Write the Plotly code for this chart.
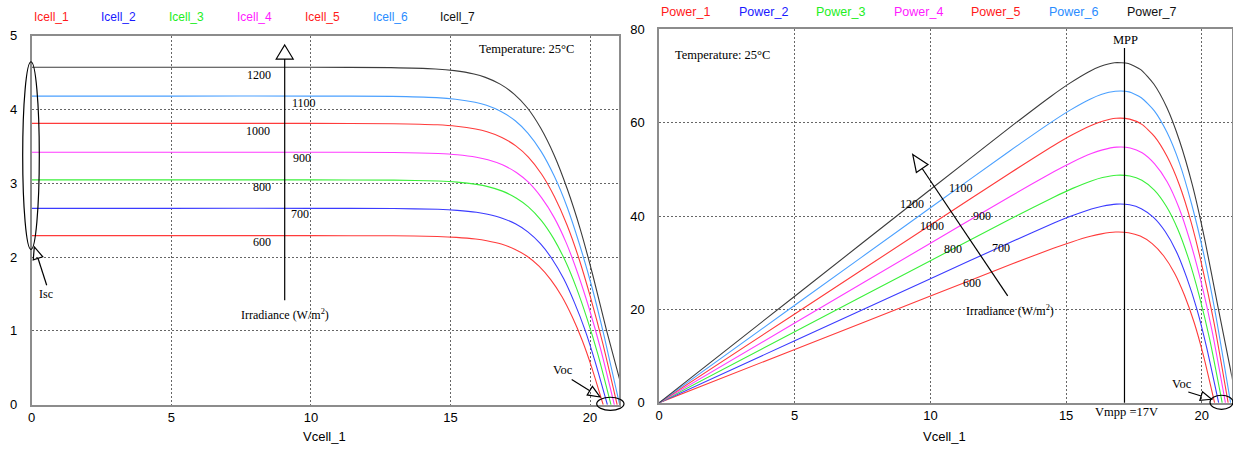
import math
import plotly.graph_objects as go

W, H = 1233, 450

# ---------------- data ----------------
irradiance = [600, 700, 800, 900, 1000, 1100, 1200]

v_600 = [0, 5, 10, 12.95, 14.53, 15.21, 15.90, 16.30, 16.82, 17.30, 17.73, 18.17, 18.59, 18.99, 19.36, 19.72, 20.06, 20.47]
i_600 = [2.29, 2.29, 2.29, 2.288, 2.279, 2.267, 2.244, 2.221, 2.176, 2.107, 2.015, 1.878, 1.695, 1.466, 1.191, 0.870, 0.504, 0]

v_700 = [0, 5, 10, 12.97, 14.55, 15.24, 15.93, 16.33, 16.85, 17.34, 17.77, 18.22, 18.65, 19.06, 19.44, 19.82, 20.18, 20.62]
i_700 = [2.66, 2.66, 2.66, 2.657, 2.647, 2.633, 2.607, 2.580, 2.527, 2.447, 2.341, 2.181, 1.968, 1.702, 1.383, 1.011, 0.585, 0]

v_800 = [0, 5, 10, 12.98, 14.56, 15.24, 15.93, 16.34, 16.86, 17.35, 17.79, 18.25, 18.69, 19.11, 19.51, 19.90, 20.29, 20.75]
i_800 = [3.045, 3.045, 3.045, 3.042, 3.030, 3.015, 2.984, 2.954, 2.893, 2.801, 2.680, 2.497, 2.253, 1.949, 1.583, 1.157, 0.670, 0]

v_900 = [0, 5, 10, 12.97, 14.56, 15.24, 15.93, 16.34, 16.86, 17.36, 17.80, 18.26, 18.72, 19.15, 19.56, 19.97, 20.38, 20.87]
i_900 = [3.42, 3.42, 3.42, 3.417, 3.403, 3.386, 3.352, 3.317, 3.249, 3.146, 3.010, 2.804, 2.531, 2.189, 1.778, 1.300, 0.752, 0]

v_1000 = [0, 5, 10, 12.94, 14.53, 15.21, 15.90, 16.31, 16.84, 17.34, 17.79, 18.26, 18.72, 19.17, 19.60, 20.02, 20.45, 20.97]
i_1000 = [3.81, 3.81, 3.81, 3.806, 3.791, 3.772, 3.734, 3.696, 3.620, 3.505, 3.353, 3.124, 2.819, 2.438, 1.981, 1.448, 0.838, 0]

v_1100 = [0, 5, 10, 12.91, 14.50, 15.18, 15.88, 16.29, 16.81, 17.32, 17.77, 18.25, 18.72, 19.18, 19.62, 20.07, 20.51, 21.06]
i_1100 = [4.18, 4.18, 4.18, 4.176, 4.159, 4.138, 4.096, 4.055, 3.971, 3.846, 3.678, 3.428, 3.093, 2.675, 2.174, 1.588, 0.920, 0]

v_1200 = [0, 5, 10, 12.87, 14.46, 15.14, 15.84, 16.25, 16.78, 17.29, 17.75, 18.23, 18.71, 19.18, 19.65, 20.11, 20.58, 21.3]
i_1200 = [4.57, 4.57, 4.57, 4.565, 4.547, 4.524, 4.479, 4.433, 4.342, 4.204, 4.022, 3.747, 3.382, 2.925, 2.376, 1.737, 1.02, 0]

icell_names = ["Icell_1", "Icell_2", "Icell_3", "Icell_4", "Icell_5", "Icell_6", "Icell_7"]
power_names = ["Power_1", "Power_2", "Power_3", "Power_4", "Power_5", "Power_6", "Power_7"]
irr_labels = ["600", "700", "800", "900", "1000", "1100", "1200"]

x_ticks = [0, 5, 10, 15, 20]
i_ticks = [0, 1, 2, 3, 4, 5]
p_ticks = [0, 20, 40, 60, 80]
v_mpp = 17.15

# ---------------- styles ----------------
line_colors = ["#ff3b3b", "#3b3bff", "#3bf03b", "#ff3bff", "#ff3b3b", "#4aa0ff", "#3c3c3c"]
text_colors = ["#ff1a1a", "#1a1aff", "#22ee22", "#ff1aff", "#ff1a1a", "#2a8cff", "#111111"]
SANS = "Liberation Sans, Arial, sans-serif"
SERIF = "Liberation Serif, Times New Roman, serif"

volts = [v_600, v_700, v_800, v_900, v_1000, v_1100, v_1200]
amps = [i_600, i_700, i_800, i_900, i_1000, i_1100, i_1200]

fig = go.Figure()
for k in range(7):
    fig.add_trace(go.Scatter(x=volts[k], y=amps[k], mode="lines", name=icell_names[k],
                             line=dict(color=line_colors[k], width=1.1, shape="spline", smoothing=0.6),
                             xaxis="x", yaxis="y", showlegend=False, hoverinfo="skip"))
for k in range(7):
    power = [v * i for v, i in zip(volts[k], amps[k])]
    fig.add_trace(go.Scatter(x=volts[k], y=power, mode="lines", name=power_names[k],
                             line=dict(color=line_colors[k], width=1.1, shape="spline", smoothing=0.6),
                             xaxis="x2", yaxis="y2", showlegend=False, hoverinfo="skip"))

# placement correction measured from the rendered page
Y_SCALE, Y_OFF = 0.966, 7.0
X_SCALE, X_OFF = 0.99676, 4.0


def Yp(y):
    return (y - Y_OFF) / Y_SCALE


def Xp(x):
    return min((x - X_OFF) / X_SCALE, W)


def P(x, y):
    return Xp(x) / W, 1 - Yp(y) / H


shapes = []
annotations = []


def open_arrow(tail, tip, head_len, half_w):
    dx, dy = tip[0] - tail[0], tip[1] - tail[1]
    L = math.hypot(dx, dy)
    ux, uy = dx / L, dy / L
    bx, by = tip[0] - ux * head_len, tip[1] - uy * head_len
    nx, ny = -uy, ux
    p1 = (bx + nx * half_w, by + ny * half_w)
    p2 = (bx - nx * half_w, by - ny * half_w)
    a, b = P(*tail), P(bx, by)
    shapes.append(dict(type="line", xref="paper", yref="paper", x0=a[0], y0=a[1], x1=b[0], y1=b[1],
                       line=dict(color="black", width=1.2), layer="above"))
    t, q1, q2 = P(*tip), P(*p1), P(*p2)
    path = "M %f,%f L %f,%f L %f,%f Z" % (t[0], t[1], q1[0], q1[1], q2[0], q2[1])
    shapes.append(dict(type="path", xref="paper", yref="paper", path=path,
                       line=dict(color="black", width=1.2), fillcolor="rgba(0,0,0,0)", layer="above"))


def ellipse(x0, x1, y0, y1):
    a, b = P(x0, y1), P(x1, y0)
    shapes.append(dict(type="circle", xref="paper", yref="paper", x0=a[0], y0=a[1], x1=b[0], y1=b[1],
                       line=dict(color="black", width=1.2), layer="above"))


def text(s, x, y, size=12.5, family=SERIF, color="black", anchor="center"):
    px_, py_ = P(x, y)
    annotations.append(dict(text=s, x=px_, y=py_, xref="paper", yref="paper", showarrow=False,
                            xanchor=anchor, yanchor="middle", font=dict(family=family, size=size, color=color)))


# legends (coloured names)
for k in range(7):
    text(icell_names[k], 31.6 + k * 67.8, 17, size=12, family=SANS, color=text_colors[k], anchor="left")
    text(power_names[k], 659 + k * 77.6, 12, size=12.5, family=SANS, color=text_colors[k], anchor="left")

# axis titles
text("Vcell_1", 325, 436, size=13, family=SANS)
text("Vcell_1", 945, 436, size=13, family=SANS)

# ----- left panel annotations -----
text("Temperature: 25\u00b0C", 527, 49, size=12.5)
left_lbl = [(261.7, 242.3), (300, 214), (262.3, 186.7), (301.7, 158.3), (258.3, 130.7), (304, 102.7), (259.3, 75)]
for k in range(7):
    text(irr_labels[k], left_lbl[k][0], left_lbl[k][1], size=12)
text("Irradiance (W/m<sup>2</sup>)", 285, 314, size=12)
open_arrow((284.7, 300), (284.7, 45), 14, 8.5)
ellipse(22.7, 39.3, 61.7, 249.3)
open_arrow((46.7, 285), (34.3, 246.7), 12, 5)
text("Isc", 46, 294, size=12)
ellipse(596.7, 624, 397, 410)
open_arrow((571.7, 379.3), (600, 396.7), 12, 5)
text("Voc", 563, 370, size=12.5)

# ----- right panel annotations -----
text("Temperature: 25\u00b0C", 723, 55, size=12.5)
right_lbl = [(971.7, 282.7), (1000.7, 248.3), (952.7, 249.3), (981.7, 216), (932, 225.7), (961, 188.3), (911.7, 204)]
for k in range(7):
    text(irr_labels[k], right_lbl[k][0], right_lbl[k][1], size=12)
text("Irradiance (W/m<sup>2</sup>)", 1010, 310, size=12)
open_arrow((1007.7, 295.7), (912.7, 154.3), 17, 7)
text("MPP", 1125.5, 40, size=12.5)
shapes.append(dict(type="line", xref="x2", yref="y2", x0=v_mpp, x1=v_mpp, y0=0, y1=76,
                   line=dict(color="black", width=1.2), layer="above"))
text("Vmpp =17V", 1127, 412, size=12.5)
ellipse(1210, 1233, 395, 409)
open_arrow((1188.3, 391.7), (1211.7, 399), 11, 4.5)
text("Voc", 1181.7, 383.3, size=12.5)

axis_common = dict(showline=True, linecolor="#8c8c8c", linewidth=1.5, mirror=True,
                   showgrid=True, gridcolor="#666666", gridwidth=1, griddash="2px,2px",
                   zeroline=False, ticks="", tickfont=dict(family=SANS, size=13, color="black"))

fig.update_layout(
    width=W, height=H,
    margin=dict(l=0, r=0, t=0, b=0),
    paper_bgcolor="white", plot_bgcolor="white",
    showlegend=False,
    xaxis=dict(domain=[Xp(31.7) / W, Xp(619.4) / W], range=[0, 21.05], tickvals=x_ticks, anchor="y",
               ticklabelstandoff=0, **axis_common),
    yaxis=dict(domain=[1 - Yp(404.5) / H, 1 - Yp(35.5) / H], range=[0, 5], tickvals=i_ticks, anchor="x",
               ticklabelstandoff=10, **axis_common),
    xaxis2=dict(domain=[Xp(659) / W, Xp(1231.7) / W], range=[0, 21.1], tickvals=x_ticks, anchor="y2",
                ticklabelstandoff=0, **axis_common),
    yaxis2=dict(domain=[1 - Yp(402.6) / H, 1 - Yp(29.4) / H], range=[0, 80], tickvals=p_ticks, anchor="x2",
                ticklabelstandoff=10, **axis_common),
    shapes=shapes,
    annotations=annotations,
)

fig.write_html("out.html", config={"displayModeBar": False},
               post_script="document.body.style.margin='0';")
